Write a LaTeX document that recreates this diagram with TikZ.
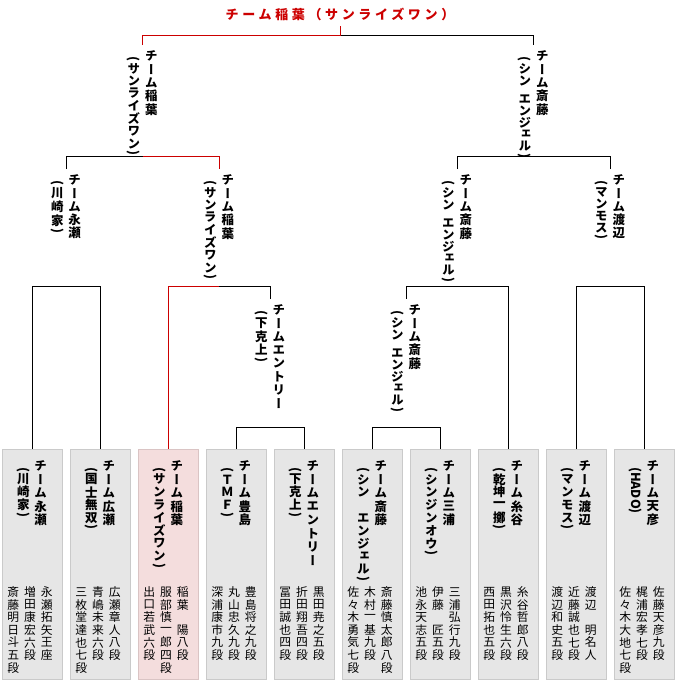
\documentclass[tikz,border=0pt]{standalone}
\usepackage{fontspec}
\usepackage{graphicx}
\usepackage{tikz}
\usetikzlibrary{
  calc,
  positioning
}
\newfontfamily\jpfont[RawFeature=+vert]{Noto Sans CJK JP}
\newfontfamily\jptitle[LetterSpace=28]{Noto Sans CJK JP}
\definecolor{winred}{RGB}{204,0,0}
\definecolor{boxgray}{RGB}{230,230,230}
\definecolor{edgegray}{RGB}{202,202,202}
\definecolor{winpink}{RGB}{244,221,221}
\definecolor{winedge}{RGB}{218,196,196}
\newlength\tatep
\newlength\tatew
\newlength\namepitch
\newlength\parenpitch
\newlength\tategap
\setlength\namepitch{13.4pt}
\setlength\parenpitch{12.8pt}
\setlength\tategap{1pt}
\newif\iftateprop
\def\tateopen{（}
\def\tateclose{）}
\def\tatespace{~}
\newcommand{\tatefull}[1]{\hbox to\tatew{\hss\iftateprop
  \vbox{\kern\tategap\hbox{#1}\kern\tategap}\else
  \vbox to\tatep{\vss\hbox{#1}\vss}\fi\hss}}
\newcommand{\tatehalf}[1]{\hbox to\tatew{\hss\iftateprop
  \vbox{\kern\tategap\hbox{#1}\kern\tategap}\else
  \vbox to0.5\tatep{\vss\hbox{#1}\vss}\fi\hss}}
\def\tatechar#1{\def\tatetmp{#1}%
  \ifx\tatetmp\tateopen\tatehalf{\rotatebox{-90}{(}}%
  \else\ifx\tatetmp\tateclose\tatehalf{\rotatebox{-90}{)}}%
  \else\ifx\tatetmp\tatespace\hbox to\tatew{\hfil\vrule width0pt height
    \iftateprop7pt\else\tatep\fi}%
  \else\tatefull{#1}\fi\fi\fi}
\def\tateloop#1{\ifx\relax#1\else\tatechar{#1}\expandafter\tateloop\fi}
\newcommand{\tcol}[1]{\vtop{\offinterlineskip\tateloop#1\relax}}
\newcommand{\team}[2]{\hbox{\setlength\tatew{17.5pt}%
  \setlength\tatep{\parenpitch}\tcol{#2}%
  \tatepropfalse\setlength\tatep{\namepitch}\tcol{#1}}}
\newcommand{\teamlat}[2]{\hbox{\setlength\tatew{17.5pt}%
  \hbox to\tatew{\hss\raisebox{6pt}[0pt][0pt]{\rotatebox{-90}{#2}}\hss}%
  \setlength\tatep{\namepitch}\tcol{#1}}}
\newcommand{\members}[3]{\hbox{\setlength\tatew{16.8pt}\setlength\tatep{12.6pt}%
  \tcol{#3}\tcol{#2}\tcol{#1}}}
\tikzset{
  teambox/.style={draw=edgegray,fill=boxgray,line width=0.8pt,
    minimum width=60pt,minimum height=230pt,inner sep=0pt},
  winbox/.style={draw=winedge,fill=winpink},
  tlab/.style={font=\jpfont\bfseries\fontsize{12.5pt}{14pt}\selectfont,
    inner sep=0pt,outer sep=4pt},
  wlab/.style={tlab,anchor=north,execute at begin node={\tateproptrue}},
  mlab/.style={font=\jpfont\fontsize{11.8pt}{13pt}\selectfont,
    inner sep=0pt,xshift=-2pt},
  champlab/.style={font=\jptitle\bfseries\fontsize{13pt}{15pt}\selectfont,
    text=winred,inner sep=0pt,outer sep=6pt},
  tieline/.style={line width=1pt,draw=black},
  winline/.style={line width=1pt,draw=winred}
}

\begin{document}
\begin{tikzpicture}[x=1pt,y=-1pt]
  \useasboundingbox (0,0) rectangle (679,680);
  \node[teambox] (nagase) at (32,564) {};
  \node[teambox] (hirose) at (100,564) {};
  \node[teambox,winbox] (inaba) at (168,564) {};
  \node[teambox] (toyoshima) at (236,564) {};
  \node[teambox] (entry) at (304,564) {};
  \node[teambox] (saito) at (372,564) {};
  \node[teambox] (miura) at (440,564) {};
  \node[teambox] (itoya) at (508,564) {};
  \node[teambox] (watanabe) at (576,564) {};
  \node[teambox] (amahiko) at (644,564) {};

  \node[tlab,below=7pt of nagase.north] (nagaseT) {\team{チーム永瀬}{（川崎家）}};
  \node[tlab,below=7pt of hirose.north] (hiroseT) {\team{チーム広瀬}{（国士無双）}};
  \node[tlab,below=7pt of inaba.north] (inabaT) {\team{チーム稲葉}{（サンライズワン）}};
  \node[tlab,below=7pt of toyoshima.north] (toyoshimaT) {\team{チーム豊島}{（ＴＭＦ）}};
  \node[tlab,below=7pt of entry.north] (entryT) {\team{チームエントリー}{（下克上）}};
  \node[tlab,below=7pt of saito.north] (saitoT) {\team{チーム斎藤}{（シン~エンジェル）}};
  \node[tlab,below=7pt of miura.north] (miuraT) {\team{チーム三浦}{（シンジンオウ）}};
  \node[tlab,below=7pt of itoya.north] (itoyaT) {\team{チーム糸谷}{（乾坤一擲）}};
  \node[tlab,below=7pt of watanabe.north] (watanabeT) {\team{チーム渡辺}{（マンモス）}};
  \node[tlab,below=7pt of amahiko.north] (amahikoT) {\teamlat{チーム天彦}{(HADO)}};

  \node[mlab,below=137pt of nagase.north] (nagaseM) {\members{永瀬拓矢王座}{増田康宏六段}{斎藤明日斗五段}};
  \node[mlab,below=137pt of hirose.north] (hiroseM) {\members{広瀬章人八段}{青嶋未来六段}{三枚堂達也七段}};
  \node[mlab,below=137pt of inaba.north] (inabaM) {\members{稲葉~陽八段}{服部慎一郎四段}{出口若武六段}};
  \node[mlab,below=137pt of toyoshima.north] (toyoshimaM) {\members{豊島将之九段}{丸山忠久九段}{深浦康市九段}};
  \node[mlab,below=137pt of entry.north] (entryM) {\members{黒田尭之五段}{折田翔吾四段}{冨田誠也四段}};
  \node[mlab,below=137pt of saito.north] (saitoM) {\members{斎藤慎太郎八段}{木村一基九段}{佐々木勇気七段}};
  \node[mlab,below=137pt of miura.north] (miuraM) {\members{三浦弘行九段}{伊藤~匠五段}{池永天志五段}};
  \node[mlab,below=137pt of itoya.north] (itoyaM) {\members{糸谷哲郎八段}{黒沢怜生六段}{西田拓也五段}};
  \node[mlab,below=137pt of watanabe.north] (watanabeM) {\members{渡辺~明名人}{近藤誠也七段}{渡辺和史五段}};
  \node[mlab,below=137pt of amahiko.north] (amahikoM) {\members{佐藤天彦九段}{梶浦宏孝七段}{佐々木大地七段}};

  \node[wlab] (wEntry) at (270,299) {\team{チームエントリー}{（下克上）}};
  \node[wlab] (wSaito1) at (406,299) {\team{チーム斎藤}{（シン~エンジェル）}};
  \node[wlab] (wNagase) at (66,169) {\team{チーム永瀬}{（川崎家）}};
  \node[wlab] (wInaba1) at (219,169) {\team{チーム稲葉}{（サンライズワン）}};
  \node[wlab] (wSaito2) at (457,169) {\team{チーム斎藤}{（シン~エンジェル）}};
  \node[wlab] (wWatanabe) at (610,169) {\team{チーム渡辺}{（マンモス）}};
  \node[wlab] (wInaba2) at (142.5,45) {\team{チーム稲葉}{（サンライズワン）}};
  \node[wlab] (wSaito3) at (533.5,45) {\team{チーム斎藤}{（シン~エンジェル）}};
  \node[champlab] (champ) at (340,14) {チーム稲葉（サンライズワン）};

  \draw[tieline] (toyoshima.north) -- ++(0,-21) -| (entry.north);
  \draw[tieline] (saito.north) -- ++(0,-21) -| (miura.north);
  \draw[tieline] (nagase.north) -- ++(0,-162) -| (hirose.north);
  \draw[winline] (inaba.north) -- ++(0,-162) coordinate (qfB) -- (qfB -| wInaba1);
  \draw[tieline] (qfB -| wInaba1) -| (wEntry.north);
  \draw[tieline] (itoya.north) -- ++(0,-162) -| (wSaito1.north);
  \draw[tieline] (watanabe.north) -- ++(0,-162) -| (amahiko.north);
  \draw[tieline] (wNagase.north) -- ++(0,-13) coordinate (sfA) -- (sfA -| wInaba2);
  \draw[winline] (sfA -| wInaba2) -| (wInaba1.north);
  \draw[tieline] (wSaito2.north) -- ++(0,-13) -| (wWatanabe.north);
  \draw[tieline] (wInaba2.north) ++(0,-10) coordinate (fin) -| (wSaito3.north);
  \draw[winline] (wInaba2.north) -- (fin) -- (fin -| champ) -- (champ.south);
\end{tikzpicture}
\end{document}
